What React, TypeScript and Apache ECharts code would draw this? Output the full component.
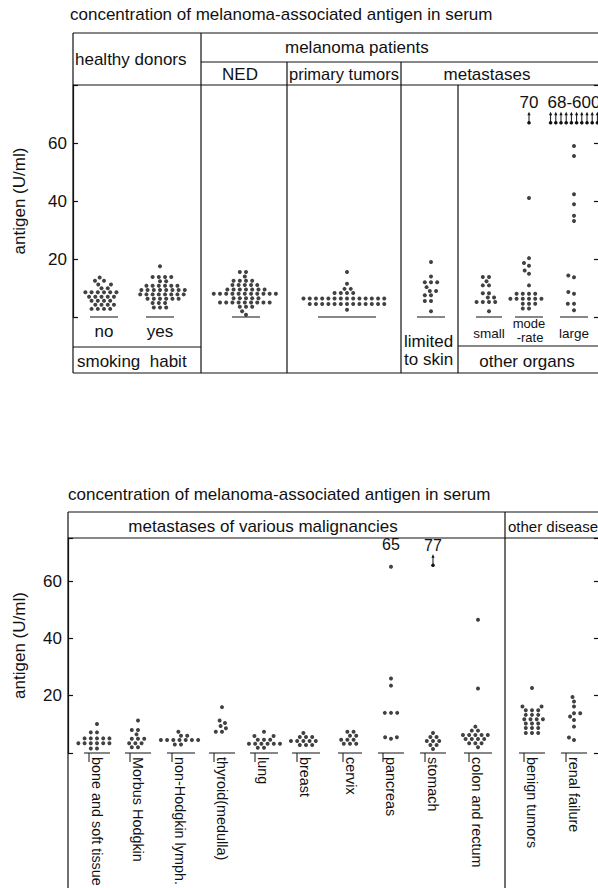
import React, { useEffect, useRef } from "react";
import * as echarts from "echarts";

// ---------------- texts ----------------
const TITLE = "concentration of melanoma-associated antigen in serum";
const Y_AXIS_NAME = "antigen (U/ml)";
const Y_TICK_LABELS = [20, 40, 60];

// ---------------- top panel data (U/ml) ----------------
const healthyNo = [13.6, 12.5, 12.5, 11.2, 11.2, 9.9, 9.9, 8.5, 8.5, 8.5, 8.5, 8.5, 8.5, 7, 7, 7, 7, 7, 5.6, 5.6, 5.6, 5.6, 4.2, 4.2, 4.2, 4.2, 2.8, 2.8, 2.8, 2.8];
const healthyYes = [17.5, 13.8, 13.8, 13.8, 13.8, 12.3, 12.3, 10.8, 10.8, 10.8, 10.8, 10.8, 10.8, 9.3, 9.3, 9.3, 9.3, 9.3, 9.3, 9.3, 9.3, 7.8, 7.8, 7.8, 7.8, 7.8, 7.8, 7.8, 7.8, 6.3, 6.3, 6.3, 6.3, 6.3, 6.3, 4.8, 4.8, 4.8, 3.3, 3.3, 3.3];
const nedPatients = [15.5, 15.5, 14, 12.5, 12.5, 12.5, 12.5, 11, 11, 11, 11, 11, 9.5, 9.5, 9.5, 9.5, 9.5, 9.5, 9.5, 8, 8, 8, 8, 8, 8, 8, 8, 8, 8, 8, 6.5, 6.5, 6.5, 6.5, 6.5, 5, 5, 5, 5, 5, 5, 5, 5, 5, 3.5, 3.5, 3.5, 2, 0.8];
const primaryTumors = [15.5, 11.5, 9.7, 9.7, 8.3, 8.3, 8.3, 8.3, 6.4, 6.4, 6.4, 6.4, 6.4, 6.4, 6.4, 6.4, 6.4, 6.4, 6.4, 6.4, 6.4, 6.4, 4.5, 4.5, 4.5, 4.5, 4.5, 4.5, 4.5, 4.5, 4.5, 4.5, 4.5, 4.5, 4.5, 2.5];
const limitedToSkin = [19, 14, 12, 12, 12, 10.3, 9, 9, 7.5, 7.5, 5.5, 5.5, 2];
const organsSmall = [13.8, 13.8, 12.3, 10.9, 10.9, 8.2, 8.2, 6.7, 6.7, 5.2, 5.2, 5.2, 5.2, 2];
const organsModerate = [70, 41, 20.3, 18.6, 17.7, 16, 14.9, 10.9, 8, 8, 8, 8, 6.3, 6.3, 6.3, 6.3, 6.3, 6.3, 4.6, 4.6, 4.6, 2.9, 2.9];
const organsLarge = [600, 450, 350, 280, 220, 170, 130, 100, 80, 68, 59, 55.5, 42.3, 38.9, 34.9, 33.1, 14.3, 13.7, 8.6, 8, 4.6, 4.6, 2.3];

const topGroups = ["healthy, non-smokers", "healthy, smokers", "NED", "primary tumors", "limited to skin", "small", "moderate", "large"];
const topAxisLabels = ["no", "yes", "", "", "", "small", "mode\n-rate", "large"];
const topValues = [healthyNo, healthyYes, nedPatients, primaryTumors, limitedToSkin, organsSmall, organsModerate, organsLarge];

// ---------------- bottom panel data (U/ml) ----------------
const boneSoftTissue = [10.1, 7.2, 7.2, 5.1, 5.1, 5.1, 5.1, 5.1, 3.4, 3.4, 3.4, 3.4, 3.4, 3.4, 1.6, 1.6];
const morbusHodgkin = [11.3, 8, 8, 6.5, 5, 5, 5, 3.4, 3.4, 3.4, 2, 2];
const nonHodgkin = [7.4, 6, 6, 4.5, 4.5, 4.5, 4.5, 4.5, 4.5, 4.5, 3, 3];
const thyroidMedulla = [16, 11.3, 10.5, 9.4, 8.6, 7.4, 7.4];
const lung = [7.4, 5.9, 5.9, 4.6, 4.6, 4.6, 3.2, 3.2, 3.2, 3.2, 3.2, 3.2, 1.8, 1.8];
const breast = [7, 5.6, 5.6, 5.6, 4.2, 4.2, 4.2, 4.2, 4.2, 2.8, 2.8, 2.8];
const cervix = [7.4, 7.4, 6, 6, 4.6, 4.6, 4.6, 3.2, 3.2, 3.2];
const pancreas = [65, 26, 23.5, 14, 14, 14, 5.5, 5.5, 5];
const stomach = [77, 7, 5.6, 5.6, 4.2, 4.2, 4.2, 2.8, 2.8, 1.4];
const colonRectum = [46.5, 22.5, 9.2, 7.8, 7.8, 6.3, 6.3, 6.3, 6.3, 6.3, 4.9, 4.9, 4.9, 4.9, 3.4, 3.4, 3.4, 2];
const benignTumors = [22.7, 16.2, 16.2, 14.9, 14.9, 14.9, 13.3, 13.3, 13.3, 11.8, 11.8, 11.8, 11.8, 10.3, 10.3, 10.3, 8.7, 8.7, 8.7, 7, 7, 7];
const renalFailure = [19.5, 18, 16.2, 13.9, 13.9, 12.7, 11.5, 9.2, 5.4, 4.5];

const bottomGroups = ["bone and soft tissue", "Morbus Hodgkin", "non-Hodgkin lymph.", "thyroid(medulla)", "lung", "breast", "cervix", "pancreas", "stomach", "colon and rectum", "benign tumors", "renal failure"];
const bottomValues = [boneSoftTissue, morbusHodgkin, nonHodgkin, thyroidMedulla, lung, breast, cervix, pancreas, stomach, colonRectum, benignTumors, renalFailure];

// ---------------- layout & style ----------------
const FONT = '"Liberation Sans", Arial, Helvetica, sans-serif';
const INK = "#111111";
const DOT = 4;
const DOT_GAP = 6.2;
const Y_STRETCH = 1.4;
const LABEL_MIN = 62;

const TOP_GRID = { left: 73, top: 85, width: 525, height: 232 };
const TOP_Y_MAX = 80;
const TOP_CAP = 67;
const TOP_CENTERS = [31, 87, 173, 274, 358, 416, 456, 501];
const TOP_HALF = [14, 14, 14, 29, 14, 13, 14, 14];

const BOT_GRID = { left: 68, top: 538, width: 530, height: 215 };
const BOT_Y_MAX = 75;
const BOT_CAP = 65.5;
const BOT_CENTERS = [29, 70, 113, 154, 196, 238, 282, 323, 365, 410, 464, 506];
const BOT_HALF = [13, 13, 14, 13, 14, 14, 12, 13, 13, 14, 13, 13];

// beeswarm: horizontal offsets (px) so that dots do not overlap
function swarm(values: number[], pxPerUnit: number, d: number): number[] {
  const order = values.map((_, i) => i).sort((a, b) => values[a] - values[b]);
  const placed: { x: number; y: number }[] = [];
  const out = new Array(values.length).fill(0);
  for (const i of order) {
    const y = values[i] * pxPerUnit;
    const cands = [0];
    for (const p of placed) {
      const dy = Math.abs(p.y - y);
      if (dy < d) {
        const dx = Math.sqrt(d * d - dy * dy) + 0.01;
        cands.push(p.x + dx, p.x - dx);
      }
    }
    cands.sort((a, b) => Math.abs(a) - Math.abs(b) || a - b);
    let x = 0;
    for (const c of cands) {
      if (placed.every((p) => (p.x - c) ** 2 + (p.y - y) ** 2 >= d * d - 0.05)) {
        x = c;
        break;
      }
    }
    placed.push({ x, y });
    out[i] = x;
  }
  return out;
}

function textEl(text: string, x: number, y: number, size: number, align = "left", vAlign = "middle", weight = "normal") {
  return {
    type: "text",
    x,
    y,
    silent: true,
    style: {
      text,
      fill: INK,
      font: `${weight} ${size}px ${FONT}`,
      align,
      verticalAlign: vAlign,
      textAlign: align,
      textVerticalAlign: vAlign,
    },
  };
}

function lineEl(x1: number, y1: number, x2: number, y2: number) {
  return { type: "line", silent: true, shape: { x1, y1, x2, y2 }, style: { stroke: INK, lineWidth: 1.2 } };
}

function arrowChildren(x: number, y: number) {
  return [
    { type: "line", shape: { x1: x, y1: y, x2: x, y2: y - 9 }, style: { stroke: INK, lineWidth: 1 } },
    { type: "polygon", shape: { points: [[x - 1.6, y - 7.5], [x + 1.6, y - 7.5], [x, y - 11]] }, style: { fill: INK } },
    { type: "circle", shape: { cx: x, cy: y, r: 1.8 }, style: { fill: INK } },
  ];
}

function panelSeries(
  xIdx: number,
  yIdx: number,
  groups: string[],
  values: number[][],
  centers: number[],
  half: number[],
  labels: string[],
  cap: number,
  pxPerUnit: number,
  rotated: boolean,
  annotSize: number
) {
  const series: any[] = [];
  values.forEach((vals, g) => {
    const onScale = vals.filter((v) => v <= cap);
    const offs = swarm(onScale, pxPerUnit * Y_STRETCH, DOT_GAP);
    series.push({
      type: "scatter",
      name: groups[g],
      xAxisIndex: xIdx,
      yAxisIndex: yIdx,
      symbol: "circle",
      symbolSize: DOT,
      silent: true,
      itemStyle: { color: INK },
      data: onScale.map((v, i) => [centers[g] + offs[i], v]),
    });
  });
  // baselines and group labels
  series.push({
    type: "custom",
    name: "groups",
    xAxisIndex: xIdx,
    yAxisIndex: yIdx,
    silent: true,
    clip: false,
    data: centers.map((c, g) => [c, 0, g]),
    renderItem: (_p: any, api: any) => {
      const g = api.value(2);
      const c = api.value(0);
      const a = api.coord([c - half[g], 0]);
      const b = api.coord([c + half[g], 0]);
      const children: any[] = [
        { type: "line", shape: { x1: a[0], y1: a[1], x2: b[0], y2: b[1] }, style: { stroke: INK, lineWidth: 1 } },
      ];
      if (rotated) {
        const tx = a[0] + 5;
        children.push({ type: "line", shape: { x1: tx, y1: a[1], x2: tx, y2: a[1] + 9 }, style: { stroke: INK, lineWidth: 1 } });
        children.push({
          type: "text",
          x: tx + 1,
          y: a[1] + 4,
          rotation: -Math.PI / 2,
          style: { text: labels[g], fill: INK, font: `14.4px ${FONT}`, align: "left", verticalAlign: "bottom", textAlign: "left", textVerticalAlign: "bottom" },
        });
      } else if (labels[g]) {
        const m = api.coord([c, 0]);
        const lines = labels[g].split("\n");
        const size = lines.length > 1 ? 13 : labels[g].length > 3 ? 13.5 : 17;
        lines.forEach((ln, k) => {
          const y = lines.length > 1 ? m[1] + 6 + k * 14.5 : m[1] + (labels[g].length > 3 ? 16 : 14);
          children.push({
            type: "text",
            x: m[0] + (k > 0 ? 1 : 0),
            y,
            style: { text: ln, fill: INK, font: `${size}px ${FONT}`, align: "center", verticalAlign: "middle", textAlign: "center", textVerticalAlign: "middle" },
          });
        });
      }
      return { type: "group", children };
    },
  });
  // off-scale arrows and value annotations
  const annotated = values.map((_, g) => g).filter((g) => values[g].some((v) => v >= LABEL_MIN));
  series.push({
    type: "custom",
    name: "high values",
    xAxisIndex: xIdx,
    yAxisIndex: yIdx,
    silent: true,
    clip: false,
    data: annotated.map((g) => [centers[g], g]),
    renderItem: (_p: any, api: any) => {
      const g = api.value(1);
      const c = api.value(0);
      const lab = values[g].filter((v) => v >= LABEL_MIN);
      const off = values[g].filter((v) => v > cap);
      const children: any[] = [];
      const capPt = api.coord([c, cap]);
      off.forEach((_, k) => {
        const x = capPt[0] + (k - (off.length - 1) / 2) * 5.2;
        children.push(...arrowChildren(x, capPt[1]));
      });
      const lo = Math.min(...lab);
      const hi = Math.max(...lab);
      const text = lab.length === 1 ? String(lab[0]) : `${lo}-${hi}`;
      const ty = off.length ? capPt[1] - 20 : api.coord([c, hi])[1] - 22;
      children.push({
        type: "text",
        x: capPt[0],
        y: ty,
        style: { text, fill: INK, font: `${annotSize}px ${FONT}`, align: "center", verticalAlign: "middle", textAlign: "center", textVerticalAlign: "middle" },
      });
      return { type: "group", children };
    },
  });
  return series;
}

function yAxes(gridIndex: number, max: number, nameGap: number) {
  const common = { gridIndex, type: "value", min: 0, max, interval: 20, splitLine: { show: false } };
  return [
    {
      ...common,
      position: "left",
      axisLine: { show: true, lineStyle: { color: INK, width: 1.2 } },
      axisTick: { show: true, inside: true, length: 5, lineStyle: { color: INK, width: 1.2 } },
      axisLabel: {
        show: true,
        margin: 6,
        color: INK,
        fontSize: 17,
        fontFamily: FONT,
        formatter: (v: number) => (Y_TICK_LABELS.includes(v) ? String(v) : ""),
      },
      name: Y_AXIS_NAME,
      nameLocation: "middle",
      nameGap,
      nameRotate: 90,
      nameTextStyle: { color: INK, fontSize: 17, fontFamily: FONT },
    },
    {
      ...common,
      position: "right",
      axisLine: { show: false },
      axisTick: { show: true, inside: true, length: 4, lineStyle: { color: INK, width: 1.2 } },
      axisLabel: { show: false },
    },
  ];
}

function tableGraphics() {
  return [
    // top panel
    textEl(TITLE, 70, 14, 17),
    lineEl(73, 33, 598, 33),
    lineEl(201, 62, 598, 62),
    lineEl(73, 85, 598, 85),
    lineEl(73, 33, 73, 373),
    lineEl(201, 33, 201, 373),
    lineEl(287, 62, 287, 373),
    lineEl(401, 62, 401, 373),
    lineEl(458, 85, 458, 373),
    lineEl(73, 347, 201, 347),
    lineEl(458, 346, 598, 346),
    lineEl(73, 373, 598, 373),
    textEl("healthy donors", 75, 59, 17),
    textEl("melanoma patients", 285, 47, 17),
    textEl("NED", 240, 74, 17, "center"),
    textEl("primary tumors", 289, 74, 16.5),
    textEl("metastases", 487, 74, 17, "center"),
    textEl("smoking  habit", 77, 361, 17),
    textEl("limited", 404, 341, 17),
    textEl("to skin", 404, 359, 17),
    textEl("other organs", 527, 361, 17, "center"),
    // bottom panel
    textEl(TITLE, 68, 494, 17),
    lineEl(68, 512, 598, 512),
    lineEl(68, 538, 598, 538),
    lineEl(68, 512, 68, 888),
    lineEl(505, 512, 505, 888),
    textEl("metastases of various malignancies", 263, 526, 17, "center"),
    textEl("other diseases", 508, 526, 15),
  ];
}

export default function App() {
  const ref = useRef<HTMLDivElement>(null);
  useEffect(() => {
    document.body.style.margin = "0";
    if (!ref.current) return;
    const chart = echarts.init(ref.current, null, { renderer: "svg" });
    const topPx = TOP_GRID.height / TOP_Y_MAX;
    const botPx = BOT_GRID.height / BOT_Y_MAX;
    chart.setOption({
      animation: false,
      backgroundColor: "#ffffff",
      textStyle: { fontFamily: FONT },
      grid: [
        { ...TOP_GRID, containLabel: false },
        { ...BOT_GRID, containLabel: false },
      ],
      xAxis: [
        { gridIndex: 0, type: "value", min: 0, max: TOP_GRID.width, show: false },
        { gridIndex: 1, type: "value", min: 0, max: BOT_GRID.width, show: false },
      ],
      yAxis: [...yAxes(0, TOP_Y_MAX, 45), ...yAxes(1, BOT_Y_MAX, 40)],
      graphic: tableGraphics(),
      series: [
        ...panelSeries(0, 0, topGroups, topValues, TOP_CENTERS, TOP_HALF, topAxisLabels, TOP_CAP, topPx, false, 17),
        ...panelSeries(1, 2, bottomGroups, bottomValues, BOT_CENTERS, BOT_HALF, bottomGroups, BOT_CAP, botPx, true, 16),
      ],
    });
    return () => chart.dispose();
  }, []);
  return <div ref={ref} style={{ width: 598, height: 888 }} />;
}
